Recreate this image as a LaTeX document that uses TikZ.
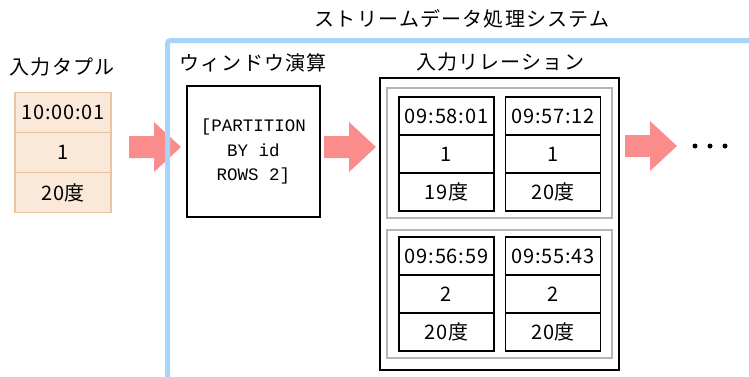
\documentclass[tikz,border=0pt]{standalone}
\usepackage{fontspec}
\setmainfont{Noto Sans CJK JP}
\newfontfamily\monofont{Liberation Mono}
\newfontfamily\headfont[LetterSpace=6]{Noto Sans CJK JP}
\newfontfamily\cellfont[LetterSpace=4]{Noto Sans CJK JP}
\definecolor{tupfill}{RGB}{250,232,216}
\definecolor{tupdraw}{RGB}{232,196,160}
\definecolor{sysblue}{RGB}{168,212,250}
\definecolor{grayframe}{RGB}{180,180,180}
\definecolor{fatred}{RGB}{250,140,140}
\tikzset{
  every node/.style={inner sep=0pt, outer sep=0pt},
  heading/.style={font=\headfont\fontsize{20}{22}\selectfont, anchor=center},
  tupcell/.style={draw=tupdraw, fill=tupfill, line width=1.5pt, minimum width=96pt, minimum height=40pt, font=\cellfont\fontsize{20}{22}\selectfont},
  relcell/.style={draw=black, line width=1.8pt, minimum width=95pt, minimum height=38pt, font=\cellfont\fontsize{20}{22}\selectfont},
  winbox/.style={draw=black, line width=1.3pt, minimum width=133pt, minimum height=131pt, align=center, font=\monofont\fontsize{17.5}{24.5}\selectfont},
  relbox/.style={draw=black, line width=1.5pt},
  grpbox/.style={draw=grayframe, line width=1.8pt},
  fatarrow/.pic={\fill[fatred] (0,-11) -- (25,-11) -- (25,-25) -- (52,0) -- (25,25) -- (25,11) -- (0,11) -- cycle;},
  dot/.style={circle, fill=black, minimum size=5pt}
}
\begin{document}
\begin{tikzpicture}[x=1pt,y=-1pt]
\useasboundingbox (0,0) rectangle (749,376);
% input tuple
\node[heading] (lblTuple) at (62,67) {入力タプル};
\node[tupcell] (tA) at (63,112.5) {10:00:01};
\node[tupcell] (tB) at (63,152.5) {1};
\node[tupcell] (tC) at (63,192.5) {20度};
% arrow 1 (under system frame)
\pic at (129,147) {fatarrow};
% system frame
\draw[sysblue, line width=5pt, rounded corners=3pt] (167.5,380) -- (167.5,40.5) -- (752,40.5);
\node[heading] (lblSys) at (462,19) {ストリームデータ処理システム};
% window operation
\node[heading] (lblWin) at (253,63) {ウィンドウ演算};
\node[winbox] (win) at (253.5,151.5) {[PARTITION\\BY id\\ROWS 2]};
% arrow 2
\pic at (324,147) {fatarrow};
% input relation
\node[heading] (lblRel) at (500,62) {入力リレーション};
\node[relbox, minimum width=239pt, minimum height=292pt] (rel) at (499.5,224) {};
\node[grpbox, minimum width=225pt, minimum height=130pt] (g1) at (499.5,153) {};
\node[grpbox, minimum width=225pt, minimum height=128pt] (g2) at (499.5,294) {};
% group 1
\node[relcell] (a1) at (446.5,116) {09:58:01};
\node[relcell] (a2) at (446.5,154) {1};
\node[relcell] (a3) at (446.5,192) {19度};
\node[relcell] (b1) at (553,116) {09:57:12};
\node[relcell] (b2) at (553,154) {1};
\node[relcell] (b3) at (553,192) {20度};
% group 2
\node[relcell] (c1) at (446.5,256) {09:56:59};
\node[relcell] (c2) at (446.5,294) {2};
\node[relcell] (c3) at (446.5,332) {20度};
\node[relcell] (d1) at (553,256) {09:55:43};
\node[relcell] (d2) at (553,294) {2};
\node[relcell] (d3) at (553,332) {20度};
% arrow 3 and dots
\pic at (625,146) {fatarrow};
\node[dot] (dot1) at (695,146) {};
\node[dot] (dot2) at (710,146) {};
\node[dot] (dot3) at (725,146) {};
\end{tikzpicture}
\end{document}
